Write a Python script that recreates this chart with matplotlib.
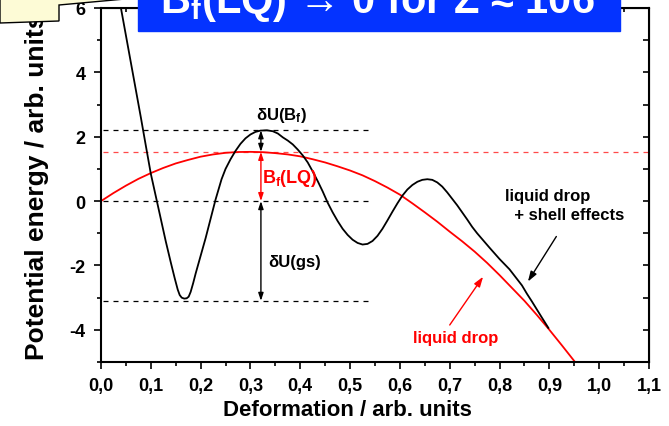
import matplotlib
matplotlib.use("Agg")
import matplotlib.pyplot as plt
from matplotlib.patches import Rectangle, Polygon
from matplotlib.ticker import MultipleLocator, FuncFormatter

plt.rcParams['font.family'] = ['Liberation Sans', 'DejaVu Sans']
plt.rcParams['font.weight'] = 'bold'
plt.rcParams['axes.labelweight'] = 'bold'
plt.rcParams['axes.unicode_minus'] = False
plt.rcParams['mathtext.fontset'] = 'custom'
plt.rcParams['mathtext.rm'] = 'Liberation Sans:bold'
plt.rcParams['mathtext.bf'] = 'Liberation Sans:bold'
plt.rcParams['mathtext.it'] = 'Liberation Sans:bold'

# liquid drop (red)
ld_x = [0.0, 0.025, 0.05, 0.075, 0.10, 0.125, 0.15, 0.175, 0.20, 0.225,
        0.25, 0.275, 0.30, 0.325, 0.35, 0.375, 0.40, 0.425, 0.45, 0.475,
        0.50, 0.525, 0.55, 0.575, 0.60, 0.625, 0.65, 0.675, 0.70, 0.725,
        0.75, 0.775, 0.80, 0.825, 0.85, 0.875, 0.90, 0.925, 0.95, 0.975]
ld_y = [0.0, 0.25, 0.48, 0.69, 0.87, 1.03, 1.17, 1.28, 1.38, 1.45,
        1.50, 1.525, 1.53, 1.52, 1.49, 1.45, 1.39, 1.30, 1.20, 1.08,
        0.95, 0.80, 0.62, 0.42, 0.20, -0.07, -0.35, -0.64, -0.95, -1.25,
        -1.57, -1.92, -2.30, -2.70, -3.10, -3.54, -4.00, -4.48, -4.97, -5.45]

# liquid drop + shell effects (black)
shell_x = [0.030, 0.040, 0.050, 0.060, 0.070, 0.080, 0.090, 0.100, 0.110,
           0.120, 0.130, 0.140, 0.148, 0.154, 0.158, 0.162, 0.167, 0.172,
           0.176, 0.180, 0.185, 0.190, 0.200, 0.210, 0.220, 0.230, 0.242,
           0.250, 0.260, 0.270, 0.280, 0.290, 0.300, 0.310, 0.320, 0.333,
           0.345, 0.355, 0.365, 0.375, 0.385, 0.395, 0.405, 0.415, 0.425,
           0.435, 0.445, 0.455, 0.465, 0.475, 0.485, 0.495, 0.505, 0.515,
           0.525, 0.535, 0.545, 0.555, 0.565, 0.575, 0.585, 0.595, 0.605,
           0.615, 0.625, 0.635, 0.645, 0.655, 0.665, 0.675, 0.685, 0.695,
           0.705, 0.715, 0.725, 0.735, 0.745, 0.755, 0.765, 0.780, 0.800,
           0.820, 0.835, 0.845, 0.855, 0.865, 0.875, 0.885, 0.898]
shell_y = [6.9, 6.0, 5.15, 4.3, 3.45, 2.6, 1.72, 0.85, 0.15,
           -0.55, -1.25, -1.9, -2.4, -2.75, -2.92, -3.0, -3.03, -3.02,
           -2.97, -2.82, -2.55, -2.25, -1.7, -1.15, -0.55, 0.05, 0.68,
           1.0, 1.3, 1.56, 1.78, 1.95, 2.07, 2.15, 2.19, 2.2,
           2.17, 2.1, 1.98, 1.88, 1.76, 1.6, 1.42, 1.2, 0.92,
           0.62, 0.3, -0.05, -0.35, -0.62, -0.86, -1.05, -1.2, -1.3,
           -1.35, -1.33, -1.24, -1.08, -0.86, -0.6, -0.33, -0.07, 0.17,
           0.36, 0.5, 0.6, 0.66, 0.68, 0.66, 0.58, 0.45, 0.27,
           0.07, -0.13, -0.35, -0.57, -0.8, -1.0, -1.18, -1.45, -1.8,
           -2.12, -2.42, -2.62, -2.88, -3.12, -3.37, -3.62, -3.94]

# reference levels
lvl_shell_barrier = 2.2
lvl_ld_barrier = 1.53
lvl_zero = 0.0
lvl_gs = -3.1
x_saddle = 0.321

fig = plt.figure(figsize=(6.69, 4.27), dpi=100)
ax = fig.add_axes([101 / 669, 1 - 363 / 427, 548 / 669, 354 / 427])

ax.hlines([lvl_shell_barrier, lvl_zero, lvl_gs], 0.005, [0.536, 0.536, 0.544],
          colors='black', linestyles=(0, (4, 4)), linewidth=0.9)
ax.hlines(lvl_ld_barrier, 0.005, 1.1, colors='#ff4a4a',
          linestyles=(0, (4, 4)), linewidth=0.9)

ax.plot(ld_x, ld_y, color='red', lw=1.3)
ax.plot(shell_x, shell_y, color='black', lw=1.3)

arw = dict(arrowstyle='<|-|>,head_length=0.45,head_width=0.15',
           shrinkA=0, shrinkB=0, lw=1.0)
ax.annotate('', xy=(x_saddle, lvl_shell_barrier), xytext=(x_saddle, lvl_ld_barrier),
            arrowprops=dict(arw, color='black'))
ax.annotate('', xy=(x_saddle, lvl_ld_barrier), xytext=(x_saddle, lvl_zero),
            arrowprops=dict(arw, color='red'))
ax.annotate('', xy=(x_saddle, lvl_zero), xytext=(x_saddle, lvl_gs),
            arrowprops=dict(arw, color='black'))

ax.text(0.363, 2.68, r'δU(B$_\mathbf{f}$)', fontsize=12, ha='center', va='center')
ax.text(0.323, 0.74, r'B$_\mathbf{f}$(LQ)', fontsize=13, color='red',
        ha='left', va='center')
ax.text(0.335, -1.88, 'δU(gs)', fontsize=12, ha='left', va='center')
ax.text(0.811, -0.12, 'liquid drop\n  + shell effects', fontsize=12,
        ha='left', va='center', linespacing=1.3)
ax.text(0.711, -4.25, 'liquid drop', fontsize=12, color='red',
        ha='center', va='center')

ax.annotate('', xy=(0.857, -2.5), xytext=(0.914, -1.1),
            arrowprops=dict(arrowstyle='-|>,head_length=0.6,head_width=0.2',
                            color='black', lw=1.0, shrinkA=0, shrinkB=0))
ax.annotate('', xy=(0.767, -2.35), xytext=(0.70, -3.85),
            arrowprops=dict(arrowstyle='-|>,head_length=0.6,head_width=0.2',
                            color='red', lw=1.0, shrinkA=0, shrinkB=0))

ax.set_xlim(0, 1.1)
ax.set_ylim(-5, 6)
ax.xaxis.set_major_locator(MultipleLocator(0.1))
ax.xaxis.set_minor_locator(MultipleLocator(0.05))
ax.yaxis.set_major_locator(MultipleLocator(2))
ax.yaxis.set_minor_locator(MultipleLocator(1))
ax.xaxis.set_major_formatter(FuncFormatter(lambda v, p: f'{v:.1f}'.replace('.', ',')))
ax.yaxis.set_major_formatter(FuncFormatter(lambda v, p: f'{v:.0f}'))
ax.tick_params(which='major', direction='out', length=5, width=1.2,
               labelsize=13, pad=6)
ax.tick_params(which='minor', direction='out', length=3, width=1.2)
for s in ax.spines.values():
    s.set_linewidth(1.5)

top = ax.secondary_xaxis('top')
top.xaxis.set_major_locator(MultipleLocator(0.05))
top.tick_params(direction='in', length=3, width=1.2, labeltop=False)
right = ax.secondary_yaxis('right')
right.yaxis.set_major_locator(MultipleLocator(1))
right.tick_params(direction='in', length=4, width=1.2, labelright=False)

ax.set_xlabel('Deformation / arb. units', fontsize=16, fontweight='bold')
ax.set_ylabel('Potential energy / arb. units', fontsize=19, fontweight='bold')
ax.xaxis.set_label_coords(0.449, -0.105)
ax.yaxis.set_label_coords(-0.095, 0.497)

# title banner and note box, cut by the top edge as in the original slide
fig.add_artist(Rectangle((138 / 669, 1 - 32 / 427), 482 / 669, 40 / 427,
                         transform=fig.transFigure, color='#0433ff', zorder=5))
fig.text(377 / 669, 1 - 13 / 427, r'B$_\mathbf{f}$(LQ) → 0 for Z ≈ 106',
         color='white', fontsize=30, ha='center', va='baseline', zorder=6)
fig.add_artist(Polygon([(0, 1 - 24 / 427), (59 / 669, 1 - 22 / 427),
                        (59 / 669, 1 - 6 / 427), (125 / 669, 1.0), (0, 1.0)],
                       closed=True, transform=fig.transFigure,
                       facecolor='#fdfbd6', edgecolor='black', lw=1.0, zorder=5))

fig.savefig('out.png', dpi=100)
